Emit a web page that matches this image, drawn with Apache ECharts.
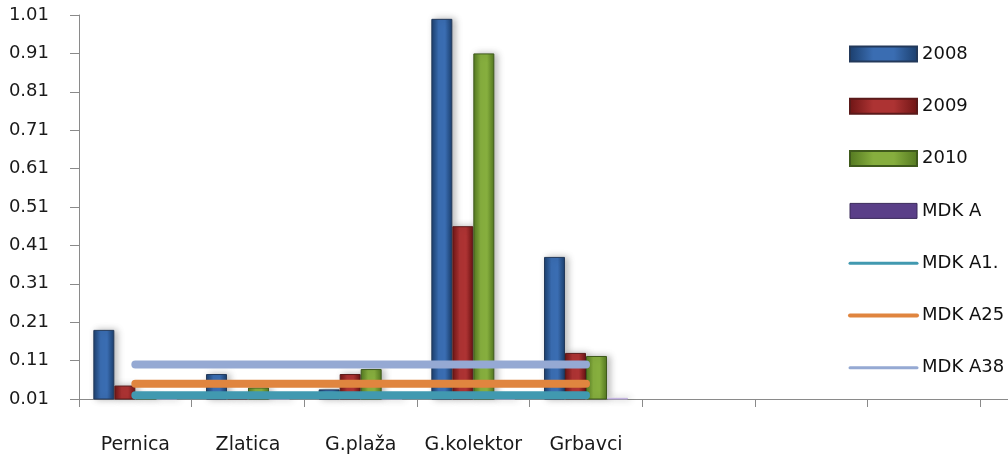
<!DOCTYPE html>
<html>
<head>
<meta charset="utf-8">
<script src="https://cdn.jsdelivr.net/npm/echarts@6/dist/echarts.min.js"></script>
<style>
  html, body { margin: 0; padding: 0; background: #fff; overflow: hidden; }
  #chart { width: 1100px; height: 459px; }
</style>
</head>
<body>
<div id="chart"></div>
<script>
// Sampling sites (trailing empty slots keep the axis running to the right)
const categories = ['Pernica', 'Zlatica', 'G.plaža', 'G.kolektor', 'Grbavci', '', '', '', ''];

// Measured concentrations per year
const values2008 = [0.19, 0.075, 0.035, 1.0, 0.38];
const values2009 = [0.045, 0.02, 0.075, 0.46, 0.13];
const values2010 = [0.02, 0.04, 0.088, 0.91, 0.122];
const valuesMdkA = [0.013, 0.013, 0.013, 0.013, 0.013];

// Limit values (MDK) per class
const mdkA1 = [0.02, 0.02, 0.02, 0.02, 0.02];
const mdkA2 = [0.05, 0.05, 0.05, 0.05, 0.05];
const mdkA3 = [0.10, 0.10, 0.10, 0.10, 0.10];

const yTickLabels = ['0.01', '0.11', '0.21', '0.31', '0.41', '0.51', '0.61', '0.71', '0.81', '0.91', '1.01'];

const FONT = 'DejaVu Sans';

function barGradient(edge, mid) {
  return new echarts.graphic.LinearGradient(0, 0, 1, 0, [
    { offset: 0, color: edge },
    { offset: 0.35, color: mid },
    { offset: 0.65, color: mid },
    { offset: 1, color: edge }
  ]);
}

function barSeries(name, data, edge, mid, border) {
  return {
    name: name,
    type: 'bar',
    data: data,
    barWidth: 21,
    barGap: '0%',
    z: 2,
    itemStyle: {
      color: barGradient(edge, mid),
      borderColor: border,
      borderWidth: 1,
      shadowColor: 'rgba(0,0,0,0.28)',
      shadowBlur: 7,
      shadowOffsetX: 3,
      shadowOffsetY: 0
    }
  };
}

function limitSeries(name, data, color) {
  return {
    name: name,
    type: 'line',
    data: data,
    symbol: 'none',
    z: 5,
    lineStyle: { color: color, width: 8, cap: 'round' },
    itemStyle: { color: color }
  };
}

// Legend swatch for a limit line: the line only, no marker
function lineLegend(name, width) {
  return {
    name: name,
    lineStyle: { width: width },
    itemStyle: { color: 'rgba(0,0,0,0)', borderWidth: 0, opacity: 0 }
  };
}

const chart = echarts.init(document.getElementById('chart'), null, { renderer: 'canvas' });

chart.setOption({
  animation: false,
  backgroundColor: '#ffffff',
  grid: { left: 79, top: 15, height: 384, width: 1014, containLabel: false },
  legend: {
    orient: 'vertical',
    left: 848,
    top: 45,
    padding: 0,
    itemWidth: 67,
    itemHeight: 15,
    itemGap: 34.3,
    textStyle: { fontFamily: FONT, fontSize: 18, color: '#111', lineHeight: 15, padding: [0, 0, 0, 0] },
    data: [
      { name: '2008', icon: 'rect' },
      { name: '2009', icon: 'rect' },
      { name: '2010', icon: 'rect' },
      { name: 'MDK A', icon: 'rect', itemStyle: { color: '#5a3f88', borderColor: '#3b2a5a', borderWidth: 1 } },
      lineLegend('MDK A1.', 3),
      lineLegend('MDK A25', 4),
      lineLegend('MDK A38', 3)
    ]
  },
  xAxis: {
    type: 'category',
    data: categories,
    boundaryGap: true,
    axisLine: { lineStyle: { color: '#8a8a8a', width: 1 } },
    axisTick: { show: true, length: 8, alignWithLabel: false, lineStyle: { color: '#8a8a8a' } },
    axisLabel: { fontFamily: FONT, fontSize: 19, color: '#1a1a1a', margin: 37, interval: 0 },
    splitLine: { show: false }
  },
  yAxis: {
    type: 'value',
    min: 0.01,
    max: 1.01,
    interval: 0.1,
    axisLine: { show: true, lineStyle: { color: '#8a8a8a', width: 1 } },
    axisTick: { show: true, length: 9, lineStyle: { color: '#8a8a8a' } },
    axisLabel: {
      fontFamily: FONT, fontSize: 18, color: '#1a1a1a', margin: 30,
      formatter: function (v) {
        const i = Math.round((v - 0.01) / 0.1);
        return yTickLabels[i] !== undefined ? yTickLabels[i] : '';
      }
    },
    splitLine: { show: false }
  },
  series: [
    barSeries('2008', values2008, '#1b3e6c', '#3a6db2', '#23395a'),
    barSeries('2009', values2009, '#6e1515', '#ad3333', '#5a1a1a'),
    barSeries('2010', values2010, '#537820', '#86ae3e', '#3f5a1c'),
    barSeries('MDK A', valuesMdkA, '#b9a6d8', '#d2c4ea', '#c2b2df'),
    limitSeries('MDK A1.', mdkA1, '#4199b0'),
    limitSeries('MDK A25', mdkA2, '#e0853f'),
    limitSeries('MDK A38', mdkA3, '#95a9d3')
  ]
});
</script>
</body>
</html>
